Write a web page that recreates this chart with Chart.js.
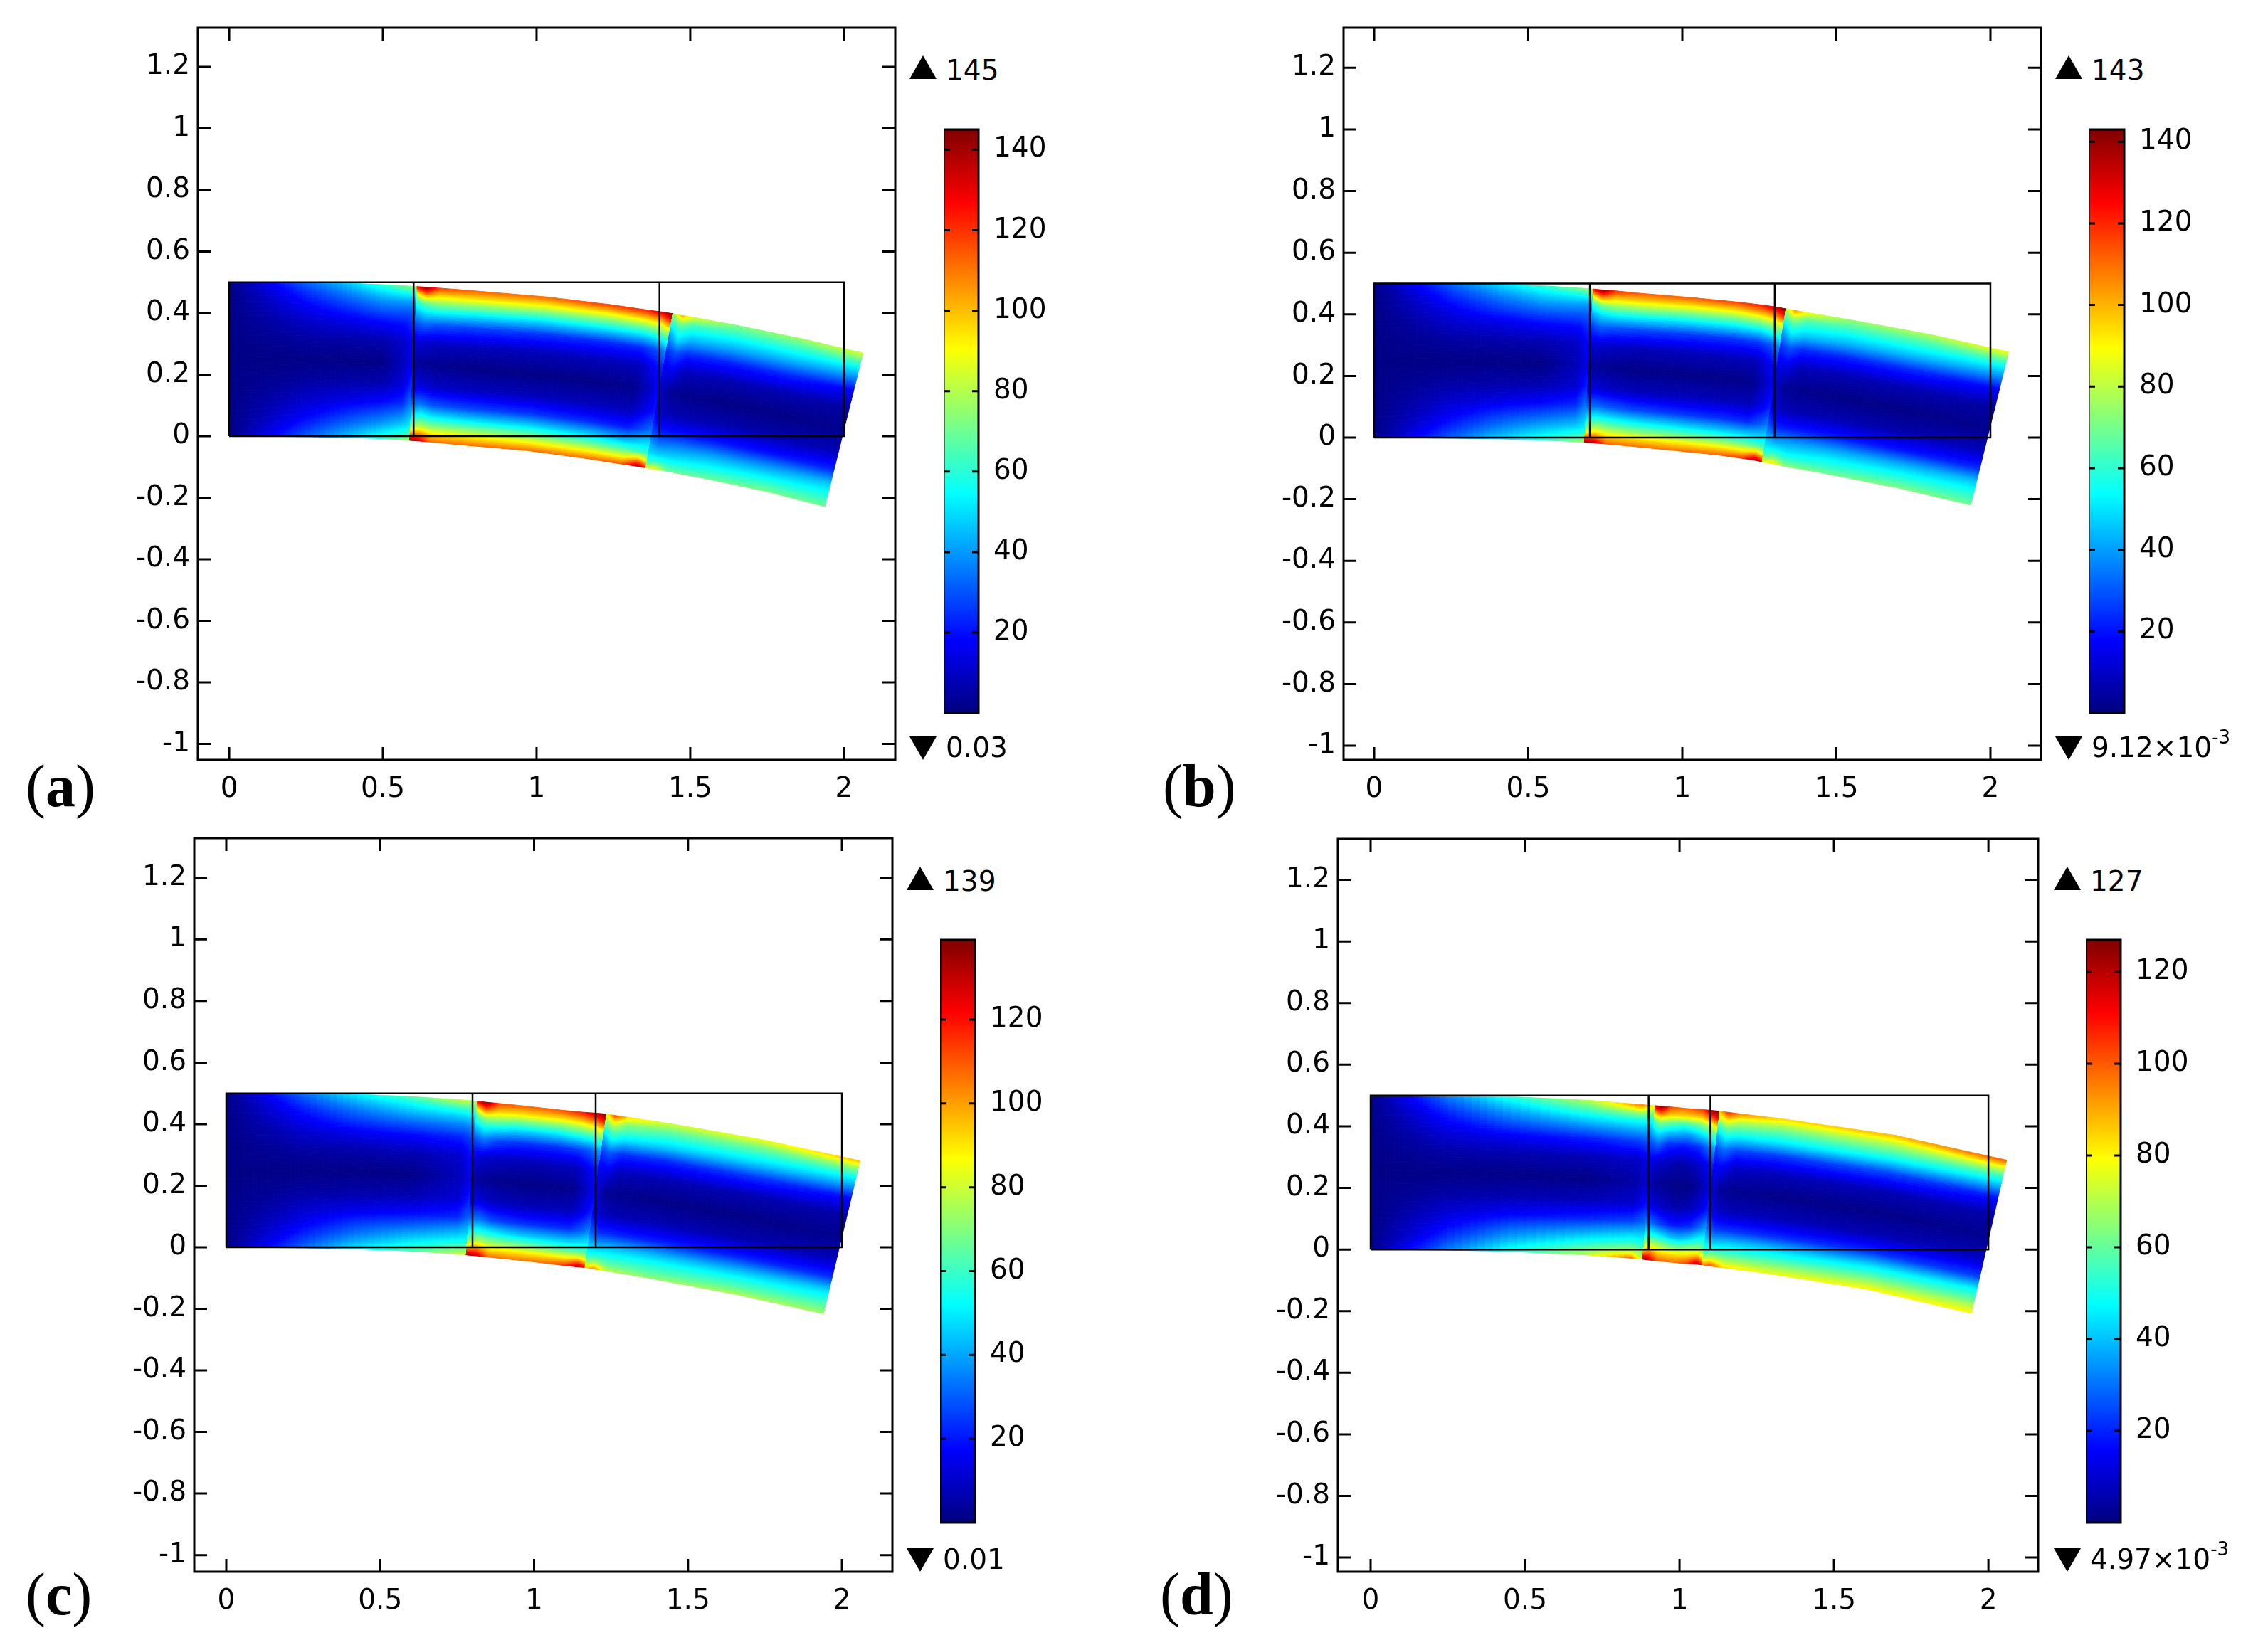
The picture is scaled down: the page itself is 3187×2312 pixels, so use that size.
<!DOCTYPE html>
<html>
<head>
<meta charset="utf-8">
<title>Stress plots</title>
<script src="https://cdn.jsdelivr.net/npm/chart.js@4"></script>
<style>
  html, body { margin: 0; padding: 0; background: #fff; }
  body { position: relative; width: 3187px; height: 2312px; overflow: hidden; }
  canvas { position: absolute; }
  .val { position: absolute; font: 39px/39px "DejaVu Sans"; color: #000; white-space: nowrap; }
  .val sup { font-size: 26px; line-height: 0; vertical-align: 19px; }
  .tag { position: absolute; font: 84px/84px "Liberation Serif"; color: #000; }
  .up, .down { position: absolute; width: 0; height: 0; border-left: 19px solid transparent; border-right: 19px solid transparent; }
  .up { border-bottom: 33px solid #000; }
  .down { border-top: 33px solid #000; }
</style>
</head>
<body>
<script>
// tick labels
const xTicks = [0, 0.5, 1, 1.5, 2];
const yTicks = [-1, -0.8, -0.6, -0.4, -0.2, 0, 0.2, 0.4, 0.6, 0.8, 1, 1.2];
const barTicksA = [20, 40, 60, 80, 100, 120, 140];
const barTicksB = [20, 40, 60, 80, 100, 120, 140];
const barTicksC = [20, 40, 60, 80, 100, 120];
const barTicksD = [20, 40, 60, 80, 100, 120];

// colour range of each panel
const rangeA = [0.03, 145];
const rangeB = [0.00912, 143];
const rangeC = [0.01, 139];
const rangeD = [0.00497, 127];

// undeformed joints
const jointsA = [0.6, 1.4];
const jointsB = [0.7, 1.3];
const jointsC = [0.8, 1.2];
const jointsD = [0.9, 1.1];

// undeformed outline
const outlineX = [0, 2, 2, 0, 0];
const outlineY = [0, 0, 0.5, 0.5, 0];

// share of the thickness for each value in a column, bottom edge to top edge
const rowFractions = [0, 0.05, 0.1, 0.16, 0.24, 0.36, 0.5, 0.64, 0.76, 0.84, 0.9, 0.95, 1];

// panel a, deformed edges
const topXA = [0, .06, .141, .252, .384, .508, .581, .612, .612, .643, .685, .8, 1.028, 1.236, 1.361, 1.413, 1.444, 1.444, 1.475, 1.517, 1.651, 1.856, 2.062];
const topYA = [.5, .5, .5, .499, .497, .492, .488, .486, .486, .484, .481, .472, .453, .428, .41, .403, .398, .398, .392, .385, .36, .318, .27];
const botXA = [0, .06, .139, .248, .376, .492, .559, .588, .588, .617, .655, .76, .972, 1.164, 1.279, 1.327, 1.356, 1.356, 1.385, 1.423, 1.549, 1.744, 1.938];
const botYA = [0, 0, -.001, -.002, -.004, -.008, -.011, -.014, -.014, -.016, -.019, -.029, -.047, -.073, -.091, -.098, -.103, -.103, -.108, -.114, -.138, -.179, -.229];
const stressA = [
  [1, 1, 1, 1, 1, 1, 1, 1, 1, 1, 1, 1, 1],
  [8, 6, 5, 4, 3, 2, 1, 2, 3, 4, 5, 6, 8],
  [18, 14, 11, 9, 6, 3, 1, 3, 6, 9, 11, 14, 18],
  [32, 26, 21, 16, 11, 5, 1, 5, 11, 16, 21, 26, 32],
  [46, 38, 31, 24, 15, 6, 1, 6, 15, 24, 31, 38, 46],
  [62, 50, 40, 31, 19, 7, 1, 7, 19, 31, 40, 50, 62],
  [72, 58, 47, 37, 24, 13, 9, 11, 21, 31, 41, 54, 72],
  [78, 62, 52, 46, 36, 25, 17, 19, 26, 32, 40, 55, 76],
  [145, 105, 70, 52, 32, 14, 5, 13, 28, 45, 60, 85, 125],
  [135, 108, 80, 60, 36, 13, 3, 11, 33, 52, 70, 105, 143],
  [112, 95, 74, 54, 30, 10, 2, 10, 30, 54, 75, 95, 118],
  [112, 95, 74, 52, 28, 9, 1, 9, 28, 52, 74, 95, 112],
  [112, 93, 72, 50, 26, 8, 1, 8, 26, 50, 72, 93, 112],
  [112, 92, 70, 48, 24, 8, 1, 8, 24, 50, 72, 94, 118],
  [116, 90, 66, 44, 22, 8, 2, 8, 24, 50, 74, 98, 122],
  [140, 100, 62, 48, 30, 16, 10, 16, 30, 56, 80, 104, 132],
  [125, 85, 60, 50, 35, 22, 18, 22, 40, 66, 92, 120, 145],
  [85, 60, 50, 42, 28, 15, 12, 14, 24, 36, 48, 62, 72],
  [92, 62, 48, 36, 22, 9, 3, 16, 30, 50, 60, 74, 102],
  [70, 58, 48, 38, 22, 7, 2, 8, 24, 42, 54, 64, 85],
  [70, 60, 51, 40, 22, 7, 1, 7, 23, 41, 52, 62, 72],
  [72, 62, 52, 40, 21, 6, 1, 7, 24, 42, 54, 64, 76],
  [70, 62, 55, 45, 24, 8, 2, 5, 18, 38, 52, 68, 85]
];

// panel b
const topXB = [0, .06, .141, .252, .404, .557, .67, .712, .712, .744, .786, .868, 1.025, 1.18, 1.263, 1.304, 1.337, 1.337, 1.368, 1.41, 1.545, 1.802, 2.059];
const topYB = [.5, .5, .5, .499, .497, .492, .485, .482, .482, .479, .476, .468, .455, .44, .43, .424, .418, .418, .412, .405, .382, .335, .278];
const botXB = [0, .06, .139, .248, .396, .543, .65, .683, .683, .716, .754, .832, .975, 1.12, 1.197, 1.236, 1.26, 1.26, 1.292, 1.33, 1.455, 1.698, 1.936];
const botYB = [0, 0, -.001, -.002, -.004, -.008, -.013, -.015, -.015, -.018, -.021, -.028, -.042, -.057, -.068, -.074, -.079, -.079, -.085, -.093, -.115, -.163, -.219];
const stressB = [
  [1, 1, 1, 1, 1, 1, 1, 1, 1, 1, 1, 1, 1],
  [8, 6, 5, 4, 3, 2, 1, 2, 3, 4, 5, 6, 8],
  [18, 14, 11, 9, 6, 3, 1, 3, 6, 9, 11, 14, 18],
  [32, 26, 21, 16, 11, 5, 1, 5, 11, 16, 21, 26, 32],
  [48, 39, 32, 25, 15, 6, 1, 6, 15, 25, 32, 39, 48],
  [60, 50, 41, 31, 19, 7, 1, 7, 19, 31, 41, 50, 60],
  [72, 58, 47, 37, 24, 12, 8, 10, 20, 31, 41, 53, 70],
  [78, 62, 52, 46, 36, 24, 16, 19, 26, 32, 40, 55, 76],
  [143, 100, 70, 50, 32, 14, 5, 12, 26, 42, 58, 85, 125],
  [135, 106, 80, 58, 34, 12, 3, 11, 32, 50, 70, 105, 141],
  [112, 95, 75, 55, 31, 10, 2, 10, 30, 53, 75, 96, 118],
  [110, 94, 72, 52, 28, 8, 1, 8, 28, 52, 74, 95, 112],
  [110, 93, 71, 50, 26, 8, 1, 8, 26, 50, 72, 93, 112],
  [112, 93, 70, 48, 25, 8, 1, 8, 25, 50, 72, 94, 116],
  [120, 92, 68, 48, 24, 8, 2, 8, 26, 52, 76, 100, 122],
  [140, 100, 64, 48, 30, 15, 9, 15, 30, 58, 82, 106, 132],
  [128, 88, 62, 50, 36, 22, 17, 22, 40, 66, 92, 120, 143],
  [88, 64, 52, 44, 30, 15, 12, 14, 24, 38, 50, 64, 78],
  [95, 68, 52, 38, 22, 9, 3, 15, 30, 50, 62, 78, 104],
  [74, 60, 50, 40, 22, 7, 2, 8, 24, 44, 56, 66, 88],
  [70, 60, 52, 41, 22, 7, 1, 7, 23, 42, 53, 63, 74],
  [72, 62, 53, 41, 21, 6, 1, 7, 24, 43, 55, 65, 78],
  [70, 62, 55, 45, 24, 8, 2, 5, 18, 38, 52, 68, 88]
];

// panel c
const topXC = [0, .06, .141, .252, .424, .609, .774, .816, .816, .847, .888, .95, 1.022, 1.094, 1.156, 1.198, 1.236, 1.236, 1.265, 1.307, 1.44, 1.75, 2.059];
const topYC = [.5, .5, .5, .499, .497, .489, .478, .474, .474, .471, .467, .461, .453, .445, .439, .436, .433, .433, .428, .422, .402, .348, .281];
const botXC = [0, .06, .139, .248, .416, .591, .746, .78, .78, .813, .852, .91, .978, 1.046, 1.104, 1.142, 1.166, 1.166, 1.195, 1.233, 1.36, 1.65, 1.94];
const botYC = [0, 0, -.001, -.002, -.005, -.012, -.021, -.025, -.025, -.028, -.032, -.038, -.045, -.053, -.06, -.064, -.066, -.066, -.071, -.077, -.098, -.152, -.216];
const stressC = [
  [1, 1, 1, 1, 1, 1, 1, 1, 1, 1, 1, 1, 1],
  [8, 6, 5, 4, 3, 2, 1, 2, 3, 4, 5, 6, 8],
  [18, 14, 11, 9, 6, 3, 1, 3, 6, 9, 11, 14, 18],
  [32, 26, 21, 16, 11, 5, 1, 5, 11, 16, 21, 26, 32],
  [50, 41, 33, 26, 16, 6, 1, 6, 16, 26, 33, 41, 50],
  [63, 52, 43, 32, 19, 7, 1, 7, 19, 32, 43, 52, 63],
  [78, 62, 50, 39, 23, 12, 8, 11, 22, 35, 47, 60, 80],
  [85, 64, 52, 44, 32, 22, 15, 19, 28, 38, 50, 65, 72],
  [139, 98, 68, 50, 32, 15, 6, 14, 28, 46, 60, 85, 120],
  [130, 104, 78, 56, 34, 12, 3, 11, 34, 54, 74, 106, 137],
  [108, 90, 72, 52, 28, 9, 2, 9, 28, 52, 74, 94, 112],
  [106, 90, 70, 48, 25, 8, 1, 8, 25, 48, 70, 92, 108],
  [106, 90, 68, 46, 24, 7, 1, 7, 24, 47, 70, 92, 108],
  [108, 90, 66, 46, 24, 8, 1, 8, 24, 48, 70, 92, 110],
  [118, 90, 66, 46, 24, 8, 2, 8, 26, 52, 74, 96, 118],
  [135, 96, 64, 48, 30, 15, 9, 15, 30, 56, 80, 104, 128],
  [122, 84, 62, 50, 36, 22, 17, 22, 40, 68, 92, 120, 139],
  [92, 66, 52, 44, 30, 16, 12, 14, 25, 40, 54, 70, 82],
  [105, 72, 54, 40, 23, 9, 3, 15, 30, 52, 66, 84, 112],
  [78, 64, 54, 42, 23, 7, 2, 8, 24, 46, 60, 70, 92],
  [72, 62, 54, 42, 22, 7, 1, 7, 23, 44, 56, 66, 80],
  [76, 64, 55, 42, 22, 6, 1, 7, 25, 45, 57, 68, 84],
  [74, 65, 56, 46, 24, 8, 2, 5, 19, 40, 55, 72, 96]
];

// panel d
const topXD = [0, .06, .141, .252, .455, .711, .88, .922, .922, .942, .973, 1.003, 1.024, 1.046, 1.078, 1.11, 1.131, 1.131, 1.16, 1.2, 1.335, 1.697, 2.059];
const topYD = [.5, .5, .5, .499, .496, .484, .47, .467, .467, .465, .463, .46, .458, .456, .454, .451, .449, .449, .445, .44, .424, .371, .29];
const botXD = [0, .06, .139, .248, .445, .689, .842, .881, .881, .899, .928, .958, .978, .996, 1.024, 1.056, 1.074, 1.074, 1.1, 1.14, 1.265, 1.603, 1.945];
const botYD = [0, 0, -.001, -.002, -.006, -.017, -.028, -.032, -.032, -.034, -.037, -.04, -.042, -.044, -.046, -.048, -.05, -.05, -.054, -.059, -.075, -.128, -.207];
const stressD = [
  [1, 1, 1, 1, 1, 1, 1, 1, 1, 1, 1, 1, 1],
  [8, 6, 5, 4, 3, 2, 1, 2, 3, 4, 5, 6, 8],
  [18, 14, 11, 9, 6, 3, 1, 3, 6, 9, 11, 14, 18],
  [32, 26, 21, 16, 11, 5, 1, 5, 11, 16, 21, 26, 32],
  [52, 43, 35, 27, 16, 6, 1, 6, 16, 27, 35, 43, 52],
  [70, 58, 47, 35, 20, 7, 1, 7, 20, 35, 47, 58, 70],
  [100, 70, 54, 42, 25, 10, 5, 9, 23, 38, 50, 68, 96],
  [70, 62, 50, 42, 30, 18, 11, 14, 26, 38, 48, 62, 78],
  [127, 92, 70, 50, 32, 16, 7, 14, 26, 42, 56, 84, 115],
  [120, 98, 74, 52, 30, 11, 3, 10, 30, 48, 66, 95, 127],
  [100, 86, 70, 48, 24, 8, 2, 8, 22, 42, 62, 86, 102],
  [98, 84, 64, 42, 20, 6, 1, 6, 20, 40, 58, 84, 98],
  [97, 84, 62, 40, 19, 5, 1, 5, 19, 38, 56, 84, 98],
  [98, 84, 62, 40, 20, 6, 1, 6, 20, 38, 58, 84, 100],
  [104, 86, 66, 44, 22, 8, 2, 8, 22, 44, 62, 86, 104],
  [122, 92, 66, 50, 30, 14, 8, 14, 30, 50, 72, 100, 124],
  [110, 80, 60, 50, 36, 20, 15, 20, 38, 62, 84, 110, 127],
  [95, 68, 52, 44, 30, 16, 12, 14, 24, 38, 52, 70, 85],
  [104, 74, 54, 40, 23, 9, 3, 15, 30, 48, 62, 82, 106],
  [84, 68, 54, 42, 23, 7, 2, 8, 24, 44, 58, 72, 94],
  [78, 66, 54, 42, 22, 7, 1, 7, 23, 44, 56, 68, 84],
  [80, 68, 56, 43, 22, 6, 1, 7, 25, 46, 60, 72, 88],
  [80, 70, 58, 47, 24, 8, 2, 5, 19, 40, 56, 76, 100]
];

// rainbow colour table, low to high
const jetStops = [0, 0.125, 0.375, 0.625, 0.875, 1];
const jetColors = [[0, 0, 128], [0, 0, 255], [0, 255, 255], [255, 255, 0], [255, 0, 0], [128, 0, 0]];

function jet(f) {
  f = Math.max(0, Math.min(1, f));
  let i = 0;
  while (i < jetStops.length - 2 && f > jetStops[i + 1]) i++;
  const k = (f - jetStops[i]) / (jetStops[i + 1] - jetStops[i]);
  const a = jetColors[i], b = jetColors[i + 1];
  return `rgb(${a[0] + (b[0] - a[0]) * k | 0},${a[1] + (b[1] - a[1]) * k | 0},${a[2] + (b[2] - a[2]) * k | 0})`;
}

// paints the stress mesh between the points the scatter dataset has placed
const meshPlugin = {
  id: 'mesh',
  beforeDatasetsDraw(chart, args, opts) {
    const pts = chart.getDatasetMeta(0).data;
    const raw = chart.data.datasets[0].data;
    const rows = rowFractions.length, cols = pts.length / rows;
    const ctx = chart.ctx, sub = 8;
    const lo = opts.range[0], hi = opts.range[1];
    ctx.save();
    ctx.lineWidth = 1;
    for (let c = 0; c < cols - 1; c++) {
      for (let r = 0; r < rows - 1; r++) {
        const i00 = c * rows + r, i01 = i00 + 1, i10 = i00 + rows, i11 = i10 + 1;
        const at = (u, v) => {
          const w00 = (1 - u) * (1 - v), w10 = u * (1 - v), w01 = (1 - u) * v, w11 = u * v;
          return [
            w00 * pts[i00].x + w10 * pts[i10].x + w01 * pts[i01].x + w11 * pts[i11].x,
            w00 * pts[i00].y + w10 * pts[i10].y + w01 * pts[i01].y + w11 * pts[i11].y,
            w00 * raw[i00].v + w10 * raw[i10].v + w01 * raw[i01].v + w11 * raw[i11].v
          ];
        };
        for (let a = 0; a < sub; a++) {
          for (let b = 0; b < sub; b++) {
            const p = at(a / sub, b / sub), q = at((a + 1) / sub, b / sub);
            const s = at((a + 1) / sub, (b + 1) / sub), t = at(a / sub, (b + 1) / sub);
            const mid = at((a + 0.5) / sub, (b + 0.5) / sub)[2];
            const col = jet((mid - lo) / (hi - lo));
            ctx.fillStyle = col;
            ctx.strokeStyle = col;
            ctx.beginPath();
            ctx.moveTo(p[0], p[1]);
            ctx.lineTo(q[0], q[1]);
            ctx.lineTo(s[0], s[1]);
            ctx.lineTo(t[0], t[1]);
            ctx.closePath();
            ctx.fill();
            ctx.stroke();
          }
        }
      }
    }
    ctx.restore();
  }
};

// box and inward ticks on all four sides
const framePlugin = {
  id: 'frame',
  afterDraw(chart) {
    const ctx = chart.ctx, a = chart.chartArea;
    const isBar = chart.config.type === 'bar';
    const len = isBar ? 9 : 18;
    ctx.save();
    ctx.strokeStyle = '#000';
    ctx.lineWidth = 3;
    ctx.strokeRect(a.left, a.top, a.right - a.left, a.bottom - a.top);
    ctx.beginPath();
    chart.scales.y.ticks.forEach(t => {
      const y = chart.scales.y.getPixelForValue(t.value);
      ctx.moveTo(a.left, y); ctx.lineTo(a.left + len, y);
      ctx.moveTo(a.right, y); ctx.lineTo(a.right - len, y);
    });
    if (!isBar) {
      chart.scales.x.ticks.forEach(t => {
        const x = chart.scales.x.getPixelForValue(t.value);
        ctx.moveTo(x, a.bottom); ctx.lineTo(x, a.bottom - len);
        ctx.moveTo(x, a.top); ctx.lineTo(x, a.top + len);
      });
    }
    ctx.stroke();
    ctx.restore();
  }
};

function addCanvas(left, top, width, height) {
  const c = document.createElement('canvas');
  c.width = width;
  c.height = height;
  c.style.left = left + 'px';
  c.style.top = top + 'px';
  c.style.width = width + 'px';
  c.style.height = height + 'px';
  document.body.appendChild(c);
  return c;
}

function addText(cls, left, top, html) {
  const d = document.createElement('div');
  d.className = cls;
  d.style.left = left + 'px';
  d.style.top = top + 'px';
  if (html) d.innerHTML = html;
  document.body.appendChild(d);
}

const tickFont = { family: 'DejaVu Sans', size: 39 };

function drawPanel(p) {
  // mesh points from the edges and the column values
  const points = [];
  p.stress.forEach((col, c) => {
    col.forEach((v, r) => {
      const f = rowFractions[r];
      points.push({
        x: p.botX[c] + f * (p.topX[c] - p.botX[c]),
        y: p.botY[c] + f * (p.topY[c] - p.botY[c]),
        v: v
      });
    });
  });
  const outline = outlineX.map((x, i) => ({ x: x, y: outlineY[i] }));
  const lineStyle = { type: 'scatter', showLine: true, borderColor: '#000', borderWidth: 2.5, pointRadius: 0, tension: 0 };

  const padL = 130, padT = 30, padR = 20, padB = 80;
  const f = p.frame;
  const canvas = addCanvas(f.l - padL, f.t - padT, f.r - f.l + padL + padR, f.b - f.t + padT + padB);
  new Chart(canvas, {
    type: 'scatter',
    data: {
      datasets: [
        { data: points, pointRadius: 0, showLine: false },
        { ...lineStyle, data: outline },
        { ...lineStyle, data: [{ x: p.joints[0], y: 0 }, { x: p.joints[0], y: 0.5 }] },
        { ...lineStyle, data: [{ x: p.joints[1], y: 0 }, { x: p.joints[1], y: 0.5 }] }
      ]
    },
    options: {
      responsive: false,
      animation: false,
      devicePixelRatio: 1,
      events: [],
      layout: { padding: { left: 0, top: padT, right: padR, bottom: 0 } },
      plugins: { legend: { display: false }, tooltip: { enabled: false }, mesh: { range: p.range } },
      scales: {
        x: {
          type: 'linear', min: p.xr[0], max: p.xr[1],
          grid: { display: false, drawTicks: false },
          border: { display: false },
          afterBuildTicks: s => { s.ticks = xTicks.map(v => ({ value: v })); },
          afterFit: s => { s.height = padB; s.paddingLeft = 0; s.paddingRight = 0; },
          ticks: { font: tickFont, color: '#000', padding: 18, maxRotation: 0, autoSkip: false, callback: v => String(v) }
        },
        y: {
          type: 'linear', min: p.yr[0], max: p.yr[1],
          grid: { display: false, drawTicks: false },
          border: { display: false },
          afterBuildTicks: s => { s.ticks = yTicks.map(v => ({ value: v })); },
          afterFit: s => { s.width = padL; s.paddingTop = 0; s.paddingBottom = 0; },
          ticks: { font: tickFont, color: '#000', padding: 11, autoSkip: false, callback: v => String(v) }
        }
      }
    },
    plugins: [meshPlugin, framePlugin]
  });

  // colour bar
  const b = p.bar;
  const barPadT = 30, barW = b.r - b.l, axisW = 110;
  const barCanvas = addCanvas(b.l, b.t - barPadT, barW + axisW, b.b - b.t + barPadT * 2);
  new Chart(barCanvas, {
    type: 'bar',
    data: {
      labels: [''],
      datasets: [{
        data: [p.range],
        barPercentage: 1,
        categoryPercentage: 1,
        backgroundColor: ctx => {
          const a = ctx.chart.chartArea;
          if (!a) return '#000';
          const g = ctx.chart.ctx.createLinearGradient(0, a.bottom, 0, a.top);
          jetStops.forEach((s, i) => g.addColorStop(s, `rgb(${jetColors[i].join(',')})`));
          return g;
        }
      }]
    },
    options: {
      responsive: false,
      animation: false,
      devicePixelRatio: 1,
      events: [],
      layout: { padding: { left: 0, top: barPadT, right: 0, bottom: barPadT } },
      plugins: { legend: { display: false }, tooltip: { enabled: false } },
      scales: {
        x: { display: false },
        y: {
          position: 'right',
          min: p.range[0], max: p.range[1],
          grid: { display: false, drawTicks: false },
          border: { display: false },
          afterBuildTicks: s => { s.ticks = p.barTicks.map(v => ({ value: v })); },
          afterFit: s => { s.width = axisW; s.paddingTop = 0; s.paddingBottom = 0; },
          ticks: { font: tickFont, color: '#000', padding: 21, autoSkip: false, callback: v => String(v) }
        }
      }
    },
    plugins: [framePlugin]
  });

  // max and min markers, panel tag
  addText('up', p.tri, p.maxBase - 34);
  addText('val', p.tri + 51, p.maxBase - 33, p.maxText);
  addText('down', p.tri, p.minBase - 29);
  addText('val', p.tri + 51, p.minBase - 33, p.minText);
  addText('tag', p.tagX, p.tagBase - 70, p.tag);
}

drawPanel({
  tag: '(<b>a</b>)', tagX: 36, tagBase: 1133,
  frame: { l: 278, r: 1258, t: 39, b: 1068 }, xr: [-0.102, 2.167], yr: [-1.052, 1.327],
  bar: { l: 1326, r: 1375, t: 182, b: 1002 }, barTicks: barTicksA,
  tri: 1278, maxBase: 112, minBase: 1064, maxText: '145', minText: '0.03',
  range: rangeA, joints: jointsA, topX: topXA, topY: topYA, botX: botXA, botY: botYA, stress: stressA
});
drawPanel({
  tag: '(<b>b</b>)', tagX: 1634, tagBase: 1133,
  frame: { l: 1888, r: 2868, t: 39, b: 1068 }, xr: [-0.0993, 2.164], yr: [-1.046, 1.33],
  bar: { l: 2935, r: 2985, t: 182, b: 1002 }, barTicks: barTicksB,
  tri: 2888, maxBase: 112, minBase: 1064, maxText: '143', minText: '9.12×10<sup>-3</sup>',
  range: rangeB, joints: jointsB, topX: topXB, topY: topYB, botX: botXB, botY: botYB, stress: stressB
});
drawPanel({
  tag: '(<b>c</b>)', tagX: 36, tagBase: 2269,
  frame: { l: 273, r: 1254, t: 1178, b: 2209 }, xr: [-0.104, 2.164], yr: [-1.054, 1.329],
  bar: { l: 1321, r: 1370, t: 1321, b: 2140 }, barTicks: barTicksC,
  tri: 1274, maxBase: 1252, minBase: 2205, maxText: '139', minText: '0.01',
  range: rangeC, joints: jointsC, topX: topXC, topY: topYC, botX: botXC, botY: botYC, stress: stressC
});
drawPanel({
  tag: '(<b>d</b>)', tagX: 1630, tagBase: 2269,
  frame: { l: 1880, r: 2864, t: 1179, b: 2209 }, xr: [-0.106, 2.161], yr: [-1.046, 1.333],
  bar: { l: 2931, r: 2980, t: 1321, b: 2140 }, barTicks: barTicksD,
  tri: 2886, maxBase: 1252, minBase: 2205, maxText: '127', minText: '4.97×10<sup>-3</sup>',
  range: rangeD, joints: jointsD, topX: topXD, topY: topYD, botX: botXD, botY: botYD, stress: stressD
});
</script>
</body>
</html>
